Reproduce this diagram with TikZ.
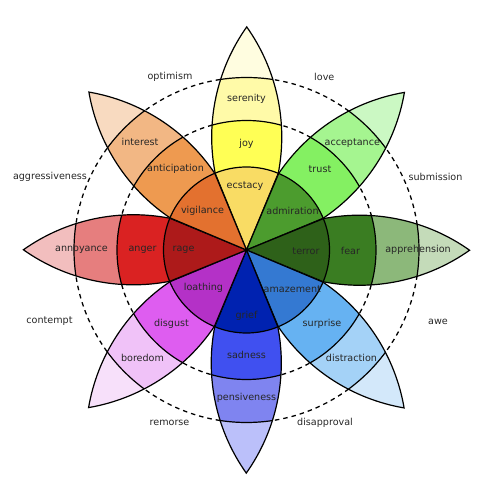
\documentclass[tikz,border=0pt]{standalone}
\usepackage{fontspec}
\setmainfont{DejaVu Sans}
\usepackage{tikz}
\definecolor{ecstacyfill}{HTML}{F9DC64}
\definecolor{joyfill}{HTML}{FFFF55}
\definecolor{serenityfill}{HTML}{FFFAA8}
\definecolor{joytip}{HTML}{FFFDE0}
\definecolor{admirationfill}{HTML}{4C9C2E}
\definecolor{trustfill}{HTML}{84F062}
\definecolor{acceptancefill}{HTML}{A5F590}
\definecolor{trusttip}{HTML}{CBF8C3}
\definecolor{terrorfill}{HTML}{2E6119}
\definecolor{fearfill}{HTML}{3A7D22}
\definecolor{apprehensionfill}{HTML}{8CB87A}
\definecolor{feartip}{HTML}{C4DBB9}
\definecolor{amazementfill}{HTML}{3479D2}
\definecolor{surprisefill}{HTML}{66B2F2}
\definecolor{distractionfill}{HTML}{A4D2F7}
\definecolor{surprisetip}{HTML}{D3E8FA}
\definecolor{grieffill}{HTML}{0022B0}
\definecolor{sadnessfill}{HTML}{4050F0}
\definecolor{pensivenessfill}{HTML}{7F84F0}
\definecolor{sadnesstip}{HTML}{BBC0FA}
\definecolor{loathingfill}{HTML}{B431C7}
\definecolor{disgustfill}{HTML}{DE5DF0}
\definecolor{boredomfill}{HTML}{F0C2F8}
\definecolor{disgusttip}{HTML}{F7E0FA}
\definecolor{ragefill}{HTML}{AD1A1A}
\definecolor{angerfill}{HTML}{DA2222}
\definecolor{annoyancefill}{HTML}{E67E7E}
\definecolor{angertip}{HTML}{F2BEBE}
\definecolor{vigilancefill}{HTML}{E3712F}
\definecolor{anticipationfill}{HTML}{EE9A50}
\definecolor{interestfill}{HTML}{F2B784}
\definecolor{anticipationtip}{HTML}{F8DAC0}

% one petal along the x axis: wedge of the inner circle plus the pointed lens
\newcommand{\petalshape}{(0,0) -- (-22.5:83) arc[start angle=-101, end angle=-54.7, radius=190.5pt] arc[start angle=54.7, end angle=101, radius=190.5pt] -- cycle}
\newcommand{\drawpetal}[5]{%
  \begin{scope}[rotate=#1]
    \begin{scope}
      \clip \petalshape;
      \fill[#5] (0,0) circle[radius=300pt];
      \fill[#4] (0,0) circle[radius=172.5pt];
      \fill[#3] (0,0) circle[radius=129.5pt];
      \fill[#2] (0,0) circle[radius=83pt];
      \draw[band] (0,0) circle[radius=83pt] circle[radius=129.5pt] circle[radius=172.5pt];
    \end{scope}
    \draw[petal] \petalshape;
  \end{scope}}

\begin{document}
\begin{tikzpicture}[
  x=1pt, y=1pt,
  petal/.style={draw=black, line width=1.2pt, line join=miter},
  band/.style={draw=black, line width=1.2pt},
  ring/.style={draw=black, line width=1.3pt, dash pattern=on 4.5pt off 4pt},
  emo/.style={font=\fontsize{9.6}{11}\selectfont, text=black!85, inner sep=0pt},
  dyad/.style={font=\fontsize{9.6}{11}\selectfont, text=black!85, inner sep=0pt}
]
  \useasboundingbox (-246.5,-250) rectangle (246.5,250);

  % dashed rings behind the petals
  \draw[ring] (0,0) circle[radius=129.5pt];
  \draw[ring] (0,0) circle[radius=172.5pt];

  % petals
  \drawpetal{90}{ecstacyfill}{joyfill}{serenityfill}{joytip}
  \drawpetal{45}{admirationfill}{trustfill}{acceptancefill}{trusttip}
  \drawpetal{0}{terrorfill}{fearfill}{apprehensionfill}{feartip}
  \drawpetal{-45}{amazementfill}{surprisefill}{distractionfill}{surprisetip}
  \drawpetal{-90}{grieffill}{sadnessfill}{pensivenessfill}{sadnesstip}
  \drawpetal{-135}{loathingfill}{disgustfill}{boredomfill}{disgusttip}
  \drawpetal{180}{ragefill}{angerfill}{annoyancefill}{angertip}
  \drawpetal{135}{vigilancefill}{anticipationfill}{interestfill}{anticipationtip}

  % emotions
  \node[emo] (ecstacy) at (-1.5,64) {ecstacy};
  \node[emo] (joy) at (0,106) {joy};
  \node[emo] (serenity) at (0,151) {serenity};
  \node[emo] (admiration) at (46,39) {admiration};
  \node[emo] (trust) at (73.5,81) {trust};
  \node[emo] (acceptance) at (105.8,107.3) {acceptance};
  \node[emo] (terror) at (59.5,-1) {terror};
  \node[emo] (fear) at (104,-1) {fear};
  \node[emo] (apprehension) at (171.5,0) {apprehension};
  \node[emo] (amazement) at (45.8,-38.7) {amazement};
  \node[emo] (surprise) at (75.5,-74) {surprise};
  \node[emo] (distraction) at (105,-108) {distraction};
  \node[emo] (grief) at (0,-66) {grief};
  \node[emo] (sadness) at (0,-105) {sadness};
  \node[emo] (pensiveness) at (0,-148) {pensiveness};
  \node[emo] (loathing) at (-43,-38) {loathing};
  \node[emo] (disgust) at (-75,-74) {disgust};
  \node[emo] (boredom) at (-104,-108) {boredom};
  \node[emo] (rage) at (-63,0) {rage};
  \node[emo] (anger) at (-104,0) {anger};
  \node[emo] (annoyance) at (-165,0) {annoyance};
  \node[emo] (vigilance) at (-44,39) {vigilance};
  \node[emo] (anticipation) at (-71,81) {anticipation};
  \node[emo] (interest) at (-106.5,107.7) {interest};

  % dyads
  \node[dyad] (love) at (77.8,172.7) {love};
  \node[dyad] (submission) at (189,72.7) {submission};
  \node[dyad] (awe) at (191.5,-72) {awe};
  \node[dyad] (disapproval) at (78.5,-173.3) {disapproval};
  \node[dyad] (remorse) at (-77,-173.3) {remorse};
  \node[dyad] (contempt) at (-197,-71) {contempt};
  \node[dyad] (aggressiveness) at (-196.5,72.7) {aggressiveness};
  \node[dyad] (optimism) at (-76.5,172.7) {optimism};
\end{tikzpicture}
\end{document}
